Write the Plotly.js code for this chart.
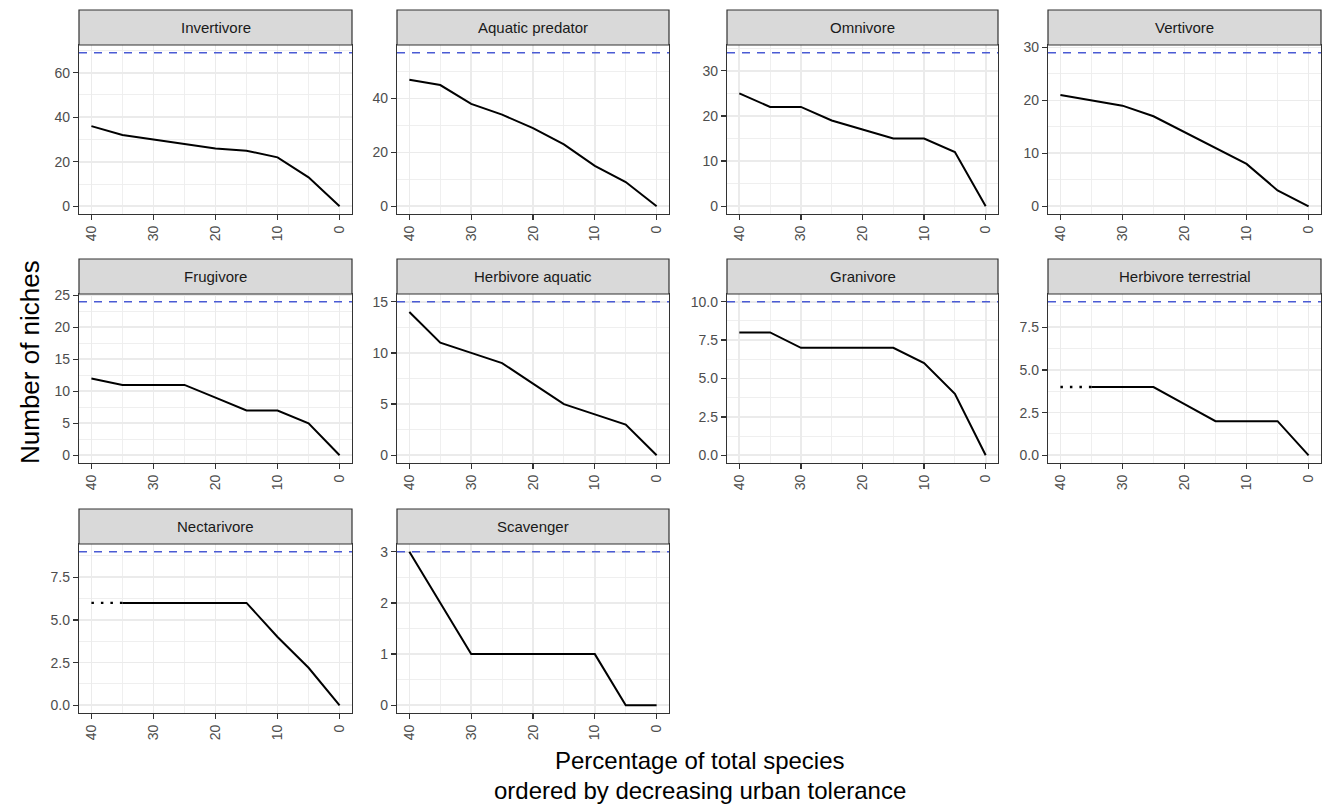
<!DOCTYPE html>
<html>
<head>
<meta charset="utf-8">
<script src="https://cdn.plot.ly/plotly-3.0.1.min.js"></script>
<style>html,body{margin:0;padding:0;background:#fff}#chart{width:1323px;height:807px}</style>
</head>
<body>
<div id="chart"></div>
<script>
// ---- data ----
const pct = [40, 35, 30, 25, 20, 15, 10, 5, 0];
const groups = ["Invertivore", "Aquatic predator", "Omnivore", "Vertivore",
  "Frugivore", "Herbivore aquatic", "Granivore", "Herbivore terrestrial",
  "Nectarivore", "Scavenger"];
const invertivore          = [36, 32, 30, 28, 26, 25, 22, 13, 0];
const aquaticPredator      = [47, 45, 38, 34, 29, 23, 15, 9, 0];
const omnivore             = [25, 22, 22, 19, 17, 15, 15, 12, 0];
const vertivore            = [21, 20, 19, 17, 14, 11, 8, 3, 0];
const frugivore            = [12, 11, 11, 11, 9, 7, 7, 5, 0];
const herbivoreAquatic     = [14, 11, 10, 9, 7, 5, 4, 3, 0];
const granivore            = [8, 8, 7, 7, 7, 7, 6, 4, 0];
const herbivoreTerrestrial = [4, 4, 4, 4, 3, 2, 2, 2, 0];
const nectarivore          = [6, 6, 6, 6, 6, 6, 4, 2.2, 0];
const scavenger            = [3, 2, 1, 1, 1, 1, 1, 0, 0];
const totalNiches = [69, 57, 34, 29, 24, 15, 10, 9, 9, 3];
const yTickStep   = [20, 20, 10, 10, 5, 5, 2.5, 2.5, 2.5, 1];
const dottedFirstSegment = ["Herbivore terrestrial", "Nectarivore"];
const xTitleLines = ["Percentage of total species", "ordered by decreasing urban tolerance"];
const yTitle = "Number of niches";
const seriesList = [invertivore, aquaticPredator, omnivore, vertivore, frugivore,
  herbivoreAquatic, granivore, herbivoreTerrestrial, nectarivore, scavenger];

// ---- layout geometry (pixels) ----
const W = 1323, H = 807;
const colsPx = [[79, 352], [397, 669], [727, 998], [1048, 1321]];
const rowsPx = [ // stripTop, stripBottom(=plotTop), plotBottom
  [10, 45, 214], [259, 294, 463], [509, 544, 713]
];
const FONT = "Liberation Sans, Arial, sans-serif";

const traces = [], shapes = [], annotations = [];
const layout = {
  width: W, height: H, margin: {l: 0, r: 0, t: 0, b: 0},
  paper_bgcolor: "#ffffff", plot_bgcolor: "#ffffff", showlegend: false,
  font: {family: FONT}
};

groups.forEach((g, i) => {
  const n = i + 1;
  const xa = n === 1 ? "x" : "x" + n, ya = n === 1 ? "y" : "y" + n;
  const xk = n === 1 ? "xaxis" : "xaxis" + n, yk = n === 1 ? "yaxis" : "yaxis" + n;
  const r = Math.floor(i / 4), c = i % 4;
  const [l, rr] = colsPx[c];
  const [st, pt, pb] = rowsPx[r];
  const maxV = totalNiches[i];
  const step = yTickStep[i];

  layout[xk] = {
    domain: [l / W, rr / W], anchor: ya, range: [42, -2], autorange: false,
    tick0: 0, dtick: 10, tickangle: -90, ticks: "outside", ticklen: 5,
    tickcolor: "#333333", tickwidth: 1.3,
    showline: true, linecolor: "#333333", linewidth: 1.2, mirror: true,
    showgrid: true, gridcolor: "#EBEBEB", gridwidth: 1.7, zeroline: false,
    minor: {tick0: 0, dtick: 5, showgrid: true, gridcolor: "#EDEDED", gridwidth: 0.9},
    tickfont: {size: 14, color: "#4D4D4D", family: FONT}, fixedrange: true
  };
  layout[yk] = {
    domain: [1 - pb / H, 1 - pt / H], anchor: xa,
    range: [-0.05 * maxV, 1.05 * maxV], autorange: false,
    tick0: 0, dtick: step, tickformat: (step === 2.5 ? ".1f" : "d"),
    ticks: "outside", ticklen: 5, tickcolor: "#333333", tickwidth: 1.3,
    showline: true, linecolor: "#333333", linewidth: 1.2, mirror: true,
    showgrid: true, gridcolor: "#EBEBEB", gridwidth: 1.7, zeroline: false,
    minor: {tick0: 0, dtick: step / 2, showgrid: true, gridcolor: "#EDEDED", gridwidth: 0.9},
    tickfont: {size: 14, color: "#4D4D4D", family: FONT}, fixedrange: true
  };

  // dashed reference line (total niches)
  shapes.push({
    type: "line", xref: xa + " domain", yref: ya, x0: 0, x1: 1, y0: maxV, y1: maxV,
    line: {color: "#4A5BD4", width: 1.5, dash: "8px,7px"}, layer: "above"
  });

  const ys = seriesList[i];
  if (dottedFirstSegment.includes(g)) {
    traces.push({x: pct.slice(0, 2), y: ys.slice(0, 2), xaxis: xa, yaxis: ya,
      type: "scatter", mode: "lines", hoverinfo: "skip",
      line: {color: "#000000", width: 2.4, dash: "2.5px,7px"}});
    traces.push({x: pct.slice(1), y: ys.slice(1), xaxis: xa, yaxis: ya,
      type: "scatter", mode: "lines", line: {color: "#000000", width: 2}});
  } else {
    traces.push({x: pct, y: ys, xaxis: xa, yaxis: ya, type: "scatter", mode: "lines",
      line: {color: "#000000", width: 2}});
  }

  // strip
  shapes.push({
    type: "rect", xref: "paper", yref: "paper", x0: l / W, x1: rr / W,
    y0: 1 - pt / H, y1: 1 - st / H, fillcolor: "#D9D9D9",
    line: {color: "#333333", width: 1.2}, layer: "above"
  });
  annotations.push({
    xref: "paper", yref: "paper", x: (l + rr) / 2 / W, y: 1 - (st + pt) / 2 / H,
    text: g, showarrow: false, xanchor: "center", yanchor: "middle",
    font: {size: 15, color: "#1A1A1A", family: FONT}
  });
});

// axis titles
[760, 790].forEach((yc, k) => {
  annotations.push({
    xref: "paper", yref: "paper", x: 700 / W, y: 1 - yc / H,
    text: xTitleLines[k], showarrow: false, xanchor: "center", yanchor: "middle",
    font: {size: 24, color: "#000000", family: FONT}
  });
});
annotations.push({
  xref: "paper", yref: "paper", x: 30 / W, y: 1 - 362 / H,
  text: yTitle, textangle: -90,
  showarrow: false, xanchor: "center", yanchor: "middle",
  font: {size: 26, color: "#000000", family: FONT}
});

layout.shapes = shapes;
layout.annotations = annotations;

Plotly.newPlot("chart", traces, layout, {displayModeBar: false, staticPlot: true});
</script>
</body>
</html>
